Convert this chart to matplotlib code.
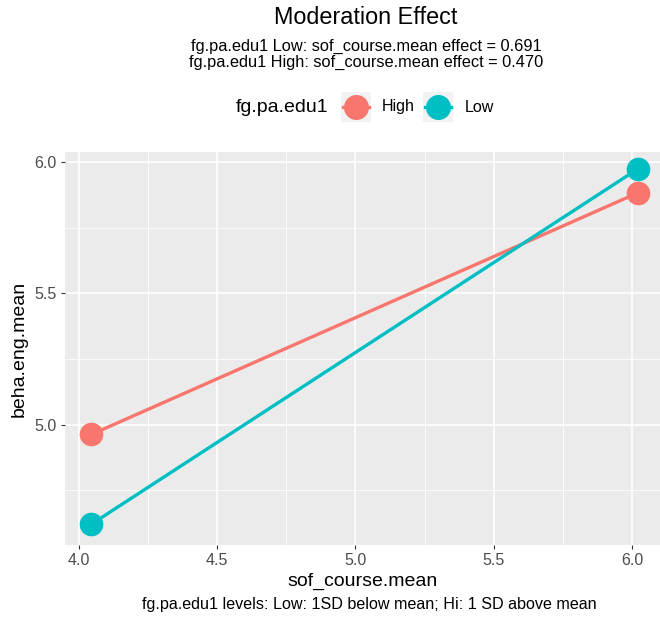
import matplotlib.pyplot as plt
from matplotlib.lines import Line2D
from matplotlib.patches import Rectangle

plt.rcParams['font.family'] = ['Liberation Sans', 'DejaVu Sans']

# data
sof_course = [4.045, 6.02]
groups = ["High", "Low"]
high_vals = [4.962, 5.882]
low_vals = [4.620, 5.973]
colors = {"High": "#F8766D", "Low": "#00BFC4"}

xticks = [4.0, 4.5, 5.0, 5.5, 6.0]
yticks = [5.0, 5.5, 6.0]

W, H = 660, 619
fig = plt.figure(figsize=(W / 100, H / 100), dpi=100)
ax = fig.add_axes([65 / W, (H - 545) / H, (W - 65) / W, (545 - 152) / H])

ax.set_facecolor("#EBEBEB")
for s in ax.spines.values():
    s.set_visible(False)

for g, vals in zip(groups, [high_vals, low_vals]):
    ax.plot(sof_course, vals, color=colors[g], lw=2.4, zorder=3)
    ax.plot(sof_course, vals, "o", color=colors[g], ms=16, zorder=4)

ax.set_xlim(3.950, 6.101)
ax.set_ylim(4.541, 6.038)
ax.set_xticks(xticks)
ax.set_xticklabels([f"{v:.1f}" for v in xticks])
ax.set_yticks(yticks)
ax.set_yticklabels([f"{v:.1f}" for v in yticks])
ax.set_xticks([4.25, 4.75, 5.25, 5.75], minor=True)
ax.set_yticks([4.75, 5.25, 5.75], minor=True)
ax.grid(True, which="major", color="white", lw=1.2, zorder=0)
ax.grid(True, which="minor", color="white", lw=0.6, zorder=0)
ax.set_axisbelow(True)
ax.tick_params(which="major", length=3, width=0.8, color="#333333",
               labelcolor="#4D4D4D", labelsize=11.5, pad=3)
ax.tick_params(which="minor", length=0)

ax.set_xlabel("sof_course.mean", fontsize=14, labelpad=3)
ax.set_ylabel("beha.eng.mean", fontsize=14, labelpad=5)

cx = 366 / W
fig.text(cx, 1 - 17 / H, "Moderation Effect", ha="center", va="center", fontsize=16.8)
fig.text(cx, 1 - 46 / H, "fg.pa.edu1 Low: sof_course.mean effect = 0.691",
         ha="center", va="center", fontsize=11.8)
fig.text(cx, 1 - 62 / H, "fg.pa.edu1 High: sof_course.mean effect = 0.470",
         ha="center", va="center", fontsize=11.8)
fig.text(369 / W, 1 - 605 / H, "fg.pa.edu1 levels: Low: 1SD below mean; Hi: 1 SD above mean",
         ha="center", va="center", fontsize=11.6)

# legend drawn by hand to match ggplot's horizontal layout
ly = 1 - 107 / H
fig.text(236 / W, ly, "fg.pa.edu1", ha="left", va="center", fontsize=14)
for g, kx, tx in [("High", 356, 382), ("Low", 438, 465)]:
    fig.add_artist(Rectangle(((kx - 15) / W, ly - 15 / H), 30 / W, 30 / H,
                             transform=fig.transFigure, color="#F2F2F2", lw=0))
    fig.add_artist(Line2D([(kx - 13) / W, (kx + 13) / W], [ly, ly],
                          transform=fig.transFigure, color=colors[g], lw=2.4))
    fig.add_artist(Line2D([kx / W], [ly], transform=fig.transFigure, marker="o",
                          ms=17, color=colors[g], lw=0))
    fig.text(tx / W, ly, g, ha="left", va="center", fontsize=11.5)

fig.savefig("out.png", dpi=100)
